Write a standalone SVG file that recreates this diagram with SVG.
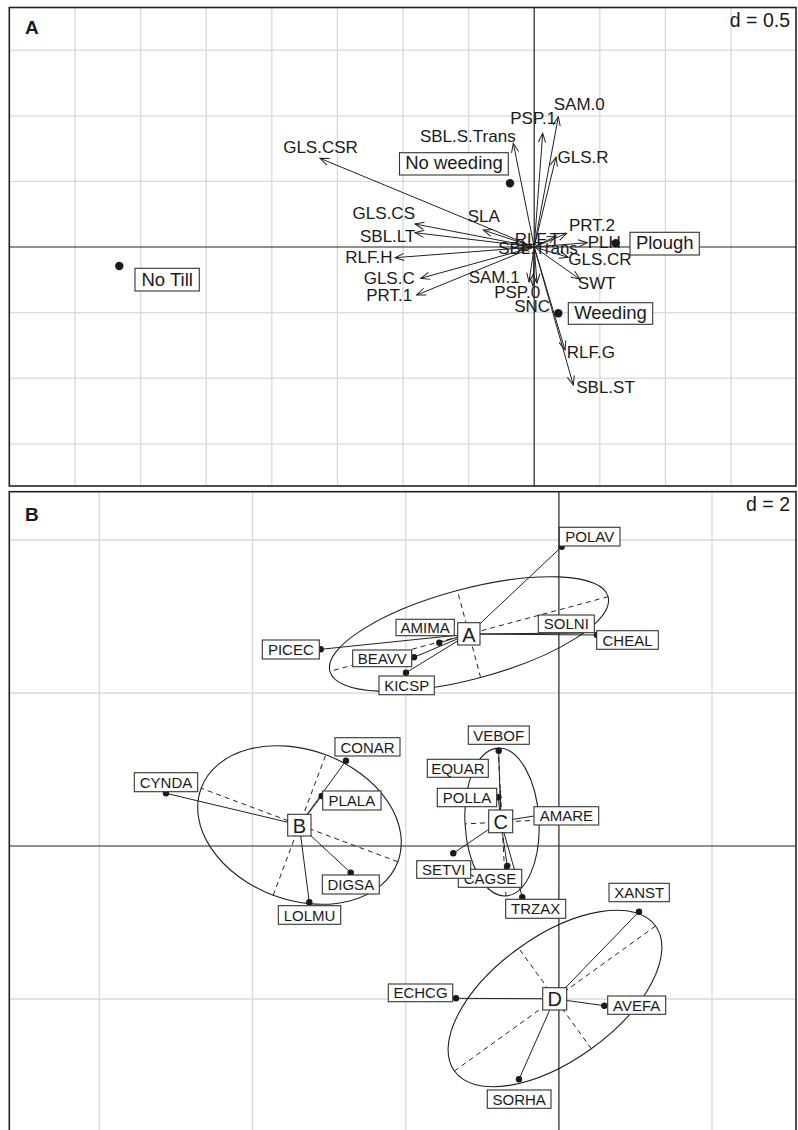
<svg xmlns="http://www.w3.org/2000/svg" width="798" height="1130" viewBox="0 0 798 1130">
<style>
.grid{stroke:#d9d9d9;stroke-width:1.3;fill:none}
.axis{stroke:#222;stroke-width:1.2;fill:none}
.frame{stroke:#222;stroke-width:1.6;fill:none}
.arr{stroke:#222;stroke-width:1;fill:none;marker-end:url(#ah)}
.lnk{stroke:#222;stroke-width:1;fill:none}
.dash{stroke:#222;stroke-width:1;fill:none;stroke-dasharray:5 4}
.ell{stroke:#222;stroke-width:1.1;fill:none}
.dot{fill:#1a1a1a}
.box{fill:#fff;stroke:#333;stroke-width:1.1}
text{font-family:"Liberation Sans",Arial,sans-serif;fill:#1a1a1a}
.la{font-size:17px;text-anchor:middle}
.lb{font-size:18.5px;text-anchor:middle}
.ls{font-size:15px;text-anchor:middle}
.lg{font-size:20px;text-anchor:middle}
.pan{font-size:19px;font-weight:bold}
.dd{font-size:19.5px;text-anchor:end}
</style>
<defs>
<marker id="ah" markerUnits="userSpaceOnUse" viewBox="-11 -5 12 10" refX="0" refY="0" markerWidth="12" markerHeight="10" orient="auto">
<path d="M-9,-3.6 L0,0 L-9,3.6" fill="none" stroke="#222" stroke-width="1"/>
</marker>
</defs>
<rect width="798" height="1130" fill="#fff"/>

<!-- Panel A grid -->
<g id="panelA-grid">
<path class="grid" d="M75,7.5V486M140.6,7.5V486M206.2,7.5V486M271.8,7.5V486M337.4,7.5V486M403,7.5V486M468.6,7.5V486M599.8,7.5V486M665.4,7.5V486M731,7.5V486M9.3,50.2H796M9.3,115.8H796M9.3,181.4H796M9.3,312.6H796M9.3,378.2H796M9.3,443.8H796"/>
<path class="axis" d="M534.2,7.5V486M9.3,247H796"/>
<rect class="frame" x="9.3" y="7.5" width="786.7" height="478.5"/>
<text class="pan" x="25" y="34">A</text>
<text class="dd" x="790" y="27">d = 0.5</text>
</g>

<!-- Panel B grid -->
<g id="panelB-grid">
<path class="grid" d="M99.3,492V1130M252.5,492V1130M405.7,492V1130M712,492V1130M9.3,540H796M9.3,693H796M9.3,999H796"/>
<path class="axis" d="M558.9,492V1130M9.3,846H796"/>
<rect class="frame" x="9.3" y="491.7" width="786.7" height="645"/>
<text class="pan" x="25" y="521">B</text>
<text class="dd" x="790" y="511">d = 2</text>
</g>

<!-- Connectors -->
<g id="connectors">
<path class="arr" d="M534.2,247L320,158.3"/>
<path class="arr" d="M534.2,247L513.3,143.3"/>
<path class="arr" d="M534.2,247L542.7,133.3"/>
<path class="arr" d="M534.2,247L558.3,116.7"/>
<path class="arr" d="M534.2,247L556,157"/>
<path class="arr" d="M534.2,247L483.3,230"/>
<path class="arr" d="M534.2,247L415,224"/>
<path class="arr" d="M534.2,247L415,232.7"/>
<path class="arr" d="M534.2,247L395,257.7"/>
<path class="arr" d="M534.2,247L420.7,278.3"/>
<path class="arr" d="M534.2,247L416.7,295"/>
<path class="arr" d="M534.2,247L529,282"/>
<path class="arr" d="M534.2,247L537,283"/>
<path class="arr" d="M534.2,247L533,286"/>
<path class="arr" d="M534.2,247L556,236"/>
<path class="arr" d="M534.2,247L520,249"/>
<path class="arr" d="M534.2,247L566.7,233.3"/>
<path class="arr" d="M534.2,247L587.3,242.7"/>
<path class="arr" d="M534.2,247L568.3,257.3"/>
<path class="arr" d="M534.2,247L580,279.3"/>
<path class="arr" d="M534.2,247L565,350"/>
<path class="arr" d="M534.2,247L573.3,385"/>

<!-- panel B ellipses and axes -->
<ellipse class="ell" cx="469" cy="634" rx="144" ry="45" transform="rotate(-15 469 634)"/>
<path class="dash" d="M608.1,596.7L329.9,671.3M480.6,677.5L457.4,590.5"/>
<ellipse class="ell" cx="299.5" cy="825" rx="105" ry="75" transform="rotate(20.5 299.5 825)"/>
<path class="dash" d="M397.9,861.8L201.1,788.2M273.2,895.3L325.8,754.7"/>
<ellipse class="ell" cx="502" cy="822" rx="37" ry="74" transform="rotate(-3 502 822)"/>
<path class="dash" d="M498.1,748.1L505.9,895.9M538.9,820.1L465.1,823.9"/>
<ellipse class="ell" cx="555" cy="998.5" rx="124" ry="62" transform="rotate(-35.8 555 998.5)"/>
<path class="dash" d="M655.6,926L454.4,1071M591.3,1048.8L518.7,948.2"/>

<!-- group links -->
<path class="lnk" d="M469,634L561.7,546.7M469,634L597,635M469,634L582,633M469,634L439.3,642.7M469,634L414,657.3M469,634L406,672.7M469,634L320.7,649.3"/>
<path class="lnk" d="M299.3,825L346,760.7M299.3,825L166,793.3M299.3,825L321.7,796M299.3,825L350.7,872.7M299.3,825L309.3,902.3"/>
<path class="lnk" d="M500.7,821.3L498.7,750.7M500.7,821.3L500.5,790M500.7,821.3L498.3,797.3M500.7,821.3L534,816M500.7,821.3L453.3,853.3M500.7,821.3L507.3,866M500.7,821.3L522.3,897.3"/>
<path class="lnk" d="M554.7,998.8L639,911.7M554.7,998.8L456,998.3M554.7,998.8L604.3,1005.7M554.7,998.8L519,1079.3"/>
</g>

<!-- Panel A nodes -->
<g id="a-GLS.CSR"><text class="la" x="320.5" y="152.5">GLS.CSR</text></g>
<g id="a-SBL.S.Trans"><text class="la" x="467.8" y="141.7">SBL.S.Trans</text></g>
<g id="a-PSP.1"><text class="la" x="533.3" y="124">PSP.1</text></g>
<g id="a-SAM.0"><text class="la" x="579.3" y="110">SAM.0</text></g>
<g id="a-GLS.R"><text class="la" x="583" y="162.7">GLS.R</text></g>
<g id="a-SLA"><text class="la" x="483.8" y="221.7">SLA</text></g>
<g id="a-GLS.CS"><text class="la" x="383.8" y="219.3">GLS.CS</text></g>
<g id="a-SBL.LT"><text class="la" x="387.7" y="241.7">SBL.LT</text></g>
<g id="a-RLF.H"><text class="la" x="368.8" y="263.3">RLF.H</text></g>
<g id="a-GLS.C"><text class="la" x="389.2" y="284.3">GLS.C</text></g>
<g id="a-PRT.1"><text class="la" x="389.2" y="300.7">PRT.1</text></g>
<g id="a-SAM.1"><text class="la" x="494.2" y="283.3">SAM.1</text></g>
<g id="a-PSP.0"><text class="la" x="517.2" y="298.3">PSP.0</text></g>
<g id="a-SNC"><text class="la" x="532.2" y="311.7">SNC</text></g>
<g id="a-RLF.T"><text class="la" x="537.3" y="245">RLF.T</text></g>
<g id="a-SBL.Trans"><text class="la" x="538" y="254">SBL.Trans</text></g>
<g id="a-PRT.2"><text class="la" x="592" y="230.7">PRT.2</text></g>
<g id="a-PLH"><text class="la" x="604.2" y="248.3">PLH</text></g>
<g id="a-GLS.CR"><text class="la" x="600" y="265">GLS.CR</text></g>
<g id="a-SWT"><text class="la" x="596.7" y="289.3">SWT</text></g>
<g id="a-RLF.G"><text class="la" x="590.8" y="357.7">RLF.G</text></g>
<g id="a-SBL.ST"><text class="la" x="605.5" y="393.3">SBL.ST</text></g>

<g id="a-NoWeeding"><circle class="dot" cx="510" cy="183.3" r="4.2"/><rect class="box" x="399.5" y="152.7" width="108.8" height="22.3"/><text class="lb" x="454" y="169">No weeding</text></g>
<g id="a-Plough"><circle class="dot" cx="615.7" cy="243.3" r="4.2"/><rect class="box" x="630" y="232.3" width="69.3" height="22.7"/><text class="lb" x="664.7" y="248.8">Plough</text></g>
<g id="a-Weeding"><circle class="dot" cx="558.3" cy="313.3" r="4.2"/><rect class="box" x="568.3" y="302.7" width="84.4" height="21.6"/><text class="lb" x="610.5" y="318.5">Weeding</text></g>
<g id="a-NoTill"><circle class="dot" cx="119.3" cy="266" r="4.2"/><rect class="box" x="135" y="268.3" width="64.3" height="22.7"/><text class="lb" x="167.2" y="285.5">No Till</text></g>

<!-- Panel B dots -->
<g id="b-dots">
<circle class="dot" cx="561.7" cy="546.7" r="3.2"/>
<circle class="dot" cx="597" cy="635" r="3.2"/>
<circle class="dot" cx="439.3" cy="642.7" r="3.2"/>
<circle class="dot" cx="414" cy="657.3" r="3.2"/>
<circle class="dot" cx="406" cy="672.7" r="3.2"/>
<circle class="dot" cx="320.7" cy="649.3" r="3.2"/>
<circle class="dot" cx="346" cy="760.7" r="3.2"/>
<circle class="dot" cx="166" cy="793.3" r="3.2"/>
<circle class="dot" cx="321.7" cy="796" r="3.2"/>
<circle class="dot" cx="350.7" cy="872.7" r="3.2"/>
<circle class="dot" cx="309.3" cy="902.3" r="3.2"/>
<circle class="dot" cx="498.7" cy="750.7" r="3.2"/>
<circle class="dot" cx="498.3" cy="797.3" r="3.2"/>
<circle class="dot" cx="453.3" cy="853.3" r="3.2"/>
<circle class="dot" cx="507.3" cy="866" r="3.2"/>
<circle class="dot" cx="522.3" cy="897.3" r="3.2"/>
<circle class="dot" cx="639" cy="911.7" r="3.2"/>
<circle class="dot" cx="456" cy="998.3" r="3.2"/>
<circle class="dot" cx="604.3" cy="1005.7" r="3.2"/>
<circle class="dot" cx="519" cy="1079.3" r="3.2"/>
</g>

<!-- Panel B species nodes -->
<g id="b-POLAV"><rect class="box" x="559.3" y="527.3" width="60.7" height="18.7"/><text class="ls" x="589.7" y="542.3">POLAV</text></g>
<g id="b-SOLNI"><rect class="box" x="538.3" y="615" width="56" height="17.7"/><text class="ls" x="566.3" y="629.3">SOLNI</text></g>
<g id="b-CHEAL"><rect class="box" x="596.7" y="630.7" width="61.6" height="18.6"/><text class="ls" x="627.5" y="645.5">CHEAL</text></g>
<g id="b-AMIMA"><rect class="box" x="396" y="619.3" width="58.3" height="16.4"/><text class="ls" x="425.2" y="633">AMIMA</text></g>
<g id="b-BEAVV"><rect class="box" x="352.7" y="650" width="59" height="16.7"/><text class="ls" x="382.2" y="663.5">BEAVV</text></g>
<g id="b-KICSP"><rect class="box" x="379" y="676" width="55.3" height="18.7"/><text class="ls" x="406.7" y="691">KICSP</text></g>
<g id="b-PICEC"><rect class="box" x="262.3" y="640" width="57" height="19"/><text class="ls" x="290.8" y="655">PICEC</text></g>
<g id="b-CONAR"><rect class="box" x="335" y="737.7" width="65" height="18.3"/><text class="ls" x="367.5" y="752.5">CONAR</text></g>
<g id="b-CYNDA"><rect class="box" x="134.3" y="772.7" width="63.4" height="19"/><text class="ls" x="166" y="787.7">CYNDA</text></g>
<g id="b-PLALA"><rect class="box" x="322.7" y="791" width="58.3" height="19"/><text class="ls" x="351.8" y="806">PLALA</text></g>
<g id="b-DIGSA"><rect class="box" x="322.3" y="875" width="57" height="19"/><text class="ls" x="350.8" y="890">DIGSA</text></g>
<g id="b-LOLMU"><rect class="box" x="278.3" y="905.7" width="62.4" height="18.6"/><text class="ls" x="309.5" y="920.5">LOLMU</text></g>
<g id="b-VEBOF"><rect class="box" x="468.3" y="726" width="61" height="18.3"/><text class="ls" x="498.8" y="740.8">VEBOF</text></g>
<g id="b-EQUAR"><rect class="box" x="427.3" y="759.3" width="61" height="18"/><text class="ls" x="457.8" y="773.8">EQUAR</text></g>
<g id="b-POLLA"><rect class="box" x="437.3" y="788.3" width="59.4" height="18.4"/><text class="ls" x="467" y="803">POLLA</text></g>
<g id="b-AMARE"><rect class="box" x="534" y="806.7" width="64.7" height="18.3"/><text class="ls" x="566.3" y="821.4">AMARE</text></g>
<g id="b-CAGSE"><rect class="box" x="458.3" y="869.3" width="63.4" height="18"/><text class="ls" x="490" y="883.8">CAGSE</text></g>
<g id="b-SETVI"><rect class="box" x="416.7" y="860.7" width="54" height="17.6"/><text class="ls" x="443.7" y="875">SETVI</text></g>
<g id="b-TRZAX"><rect class="box" x="505.7" y="899.3" width="60" height="19"/><text class="ls" x="535.7" y="914.3">TRZAX</text></g>
<g id="b-XANST"><rect class="box" x="609" y="883.3" width="60.3" height="18.4"/><text class="ls" x="639.2" y="898">XANST</text></g>
<g id="b-ECHCG"><rect class="box" x="388.3" y="984" width="64.4" height="17.7"/><text class="ls" x="420.5" y="998.3">ECHCG</text></g>
<g id="b-AVEFA"><rect class="box" x="607.7" y="996" width="58" height="18.3"/><text class="ls" x="636.7" y="1010.8">AVEFA</text></g>
<g id="b-SORHA"><rect class="box" x="487.3" y="1090" width="63.7" height="18.3"/><text class="ls" x="519.2" y="1104.8">SORHA</text></g>

<!-- Group nodes -->
<g id="grp-A"><rect class="box" x="457.7" y="622.7" width="22.3" height="22.3"/><text class="lg" x="468.9" y="641.5">A</text></g>
<g id="grp-B"><rect class="box" x="287.7" y="814.3" width="23.3" height="21.7"/><text class="lg" x="299.4" y="832.8">B</text></g>
<g id="grp-C"><rect class="box" x="488.7" y="810" width="24" height="22.7"/><text class="lg" x="500.7" y="829">C</text></g>
<g id="grp-D"><rect class="box" x="542.7" y="987.7" width="24" height="22.3"/><text class="lg" x="554.7" y="1006.3">D</text></g>
</svg>
